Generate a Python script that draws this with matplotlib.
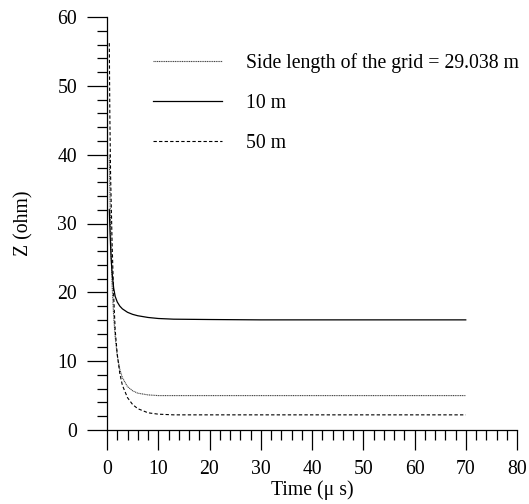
import matplotlib
matplotlib.use("Agg")
import matplotlib.pyplot as plt
from matplotlib.ticker import MultipleLocator

plt.rcParams["font.family"] = ["Liberation Serif", "DejaVu Serif"]

# time axis (microseconds) and impedance curves
t_grid = [0.45, 0.6, 0.8, 1.0, 1.3, 1.6, 2.0, 2.5, 3.0, 4.0, 5.0, 6.0, 8.0,
          10, 13, 20, 30, 40, 50, 60, 70]
z_grid = [40.0, 33.0, 26.0, 21.0, 16.5, 13.5, 10.8, 8.8, 7.6, 6.3, 5.7, 5.35,
          5.1, 5.0, 5.0, 5.0, 5.0, 5.0, 5.0, 5.0, 5.0]

t_10m = [0.45, 0.6, 0.8, 1.0, 1.3, 1.6, 2.0, 2.5, 3.0, 4.0, 5.0, 6.0, 8.0,
         10, 13, 20, 30, 40, 50, 60, 70]
z_10m = [32.0, 28.5, 25.0, 22.8, 20.6, 19.4, 18.6, 18.0, 17.6, 17.1, 16.8,
         16.6, 16.35, 16.2, 16.1, 16.05, 16.0, 16.0, 16.0, 16.0, 16.0]

t_50m = [0.45, 0.55, 0.7, 1.0, 1.3, 1.6, 2.0, 2.5, 3.0, 4.0, 5.0, 6.0, 8.0,
         10, 13, 20, 30, 40, 50, 60, 70]
z_50m = [56.2, 46.0, 37.0, 27.0, 19.5, 14.5, 11.0, 8.2, 6.5, 4.7, 3.7, 3.1,
         2.5, 2.3, 2.2, 2.2, 2.2, 2.2, 2.2, 2.2, 2.2]

labels = ["Side length of the grid = 29.038 m", "10 m", "50 m"]

fs = 14.2
fig = plt.figure(figsize=(5.29, 5.04), dpi=100)
ax = fig.add_axes([107 / 529, 1 - 430 / 504, 410 / 529, 413 / 504])

ax.plot(t_grid, z_grid, color="#444444", lw=0.8, ls=(0, (1, 0.6)), label=labels[0])
ax.plot(t_10m, z_10m, color="black", lw=0.9, ls="-", label=labels[1])
ax.plot(t_50m, z_50m, color="black", lw=0.8, ls=(0, (3, 2)), label=labels[2])

ax.set_xlim(0, 80)
ax.set_ylim(0, 60)
ax.xaxis.set_major_locator(MultipleLocator(10))
ax.xaxis.set_minor_locator(MultipleLocator(2))
ax.yaxis.set_major_locator(MultipleLocator(10))
ax.yaxis.set_minor_locator(MultipleLocator(2))
ax.tick_params(which="major", direction="out", length=14.5, width=0.9,
               labelsize=fs)
ax.tick_params(axis="x", which="major", pad=7)
ax.tick_params(axis="y", which="major", pad=7)
ax.tick_params(which="minor", direction="out", length=7, width=0.9)

for s in ["top", "right"]:
    ax.spines[s].set_visible(False)
for s in ["left", "bottom"]:
    ax.spines[s].set_linewidth(0.9)

ax.set_xlabel("Time (\u03bc s)", fontsize=fs, labelpad=1)
ax.set_ylabel("Z (ohm)", fontsize=fs, labelpad=17)

ax.legend(loc="upper left", bbox_to_anchor=(0.112, 0.912), frameon=False,
          fontsize=fs, handlelength=3.5, handletextpad=1.2,
          labelspacing=1.05, borderpad=0, borderaxespad=0)

fig.savefig("out.png", dpi=100)
